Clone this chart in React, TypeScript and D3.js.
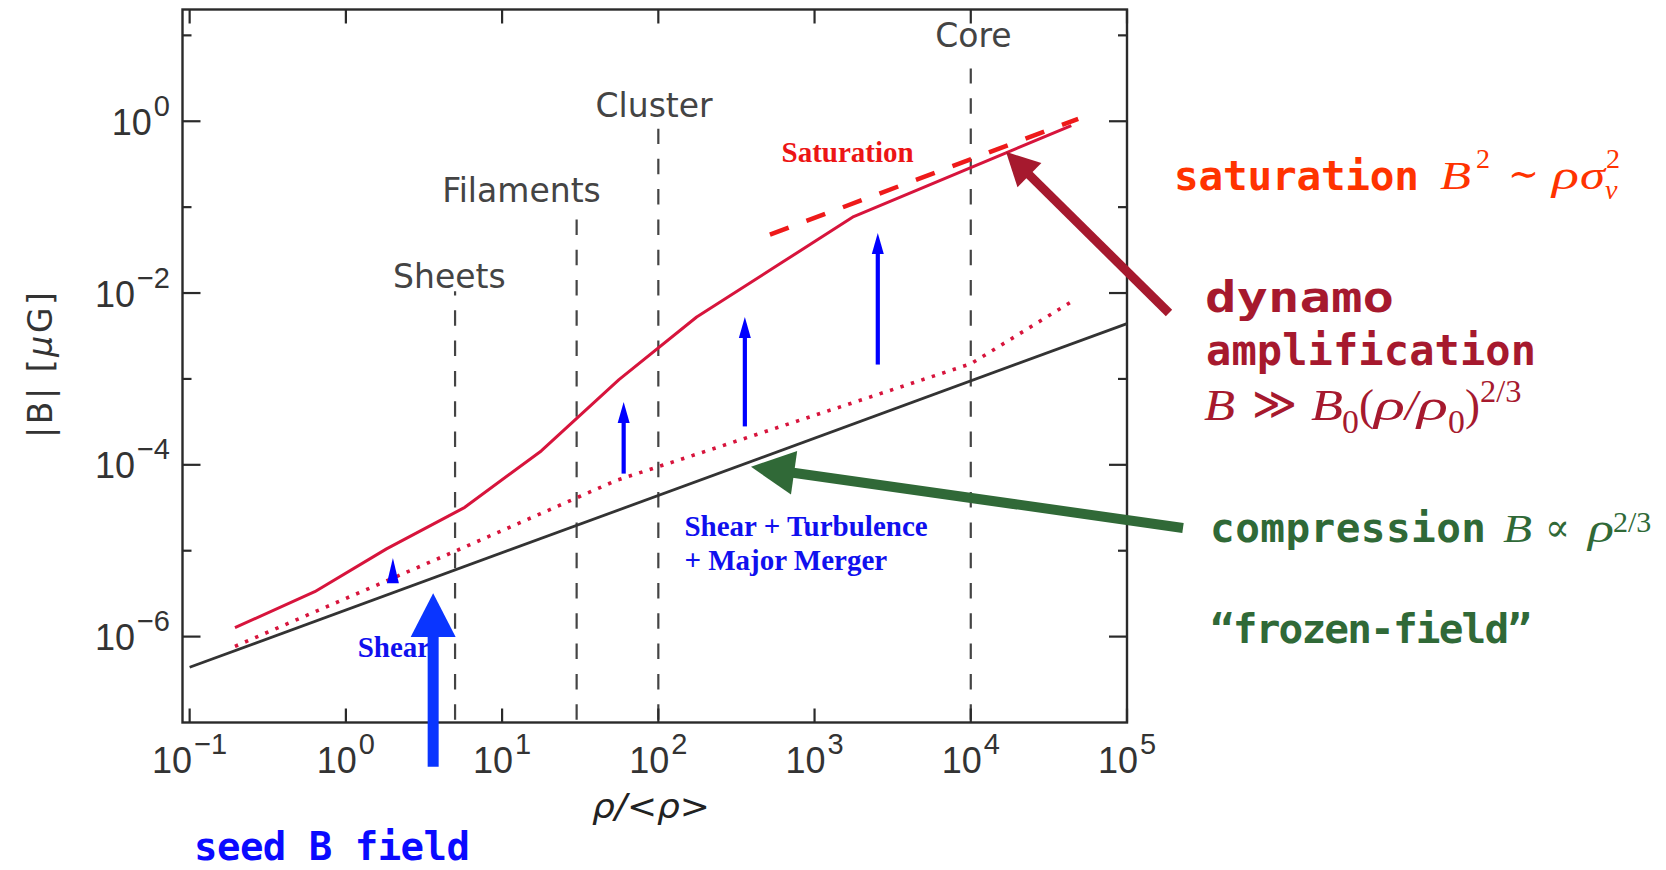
import React from "react";
import * as d3 from "d3";

const WIDTH = 1666;
const HEIGHT = 870;
const PLOT = { left: 182.5, right: 1127, top: 9.5, bottom: 722.5 };

// ---- axes ----
const X_DOMAIN = [0.09, 1e5];
const Y_DOMAIN = [1e-7, 20];
const X_TICK_EXPONENTS = [-1, 0, 1, 2, 3, 4, 5];
const Y_MAJOR_EXPONENTS = [0, -2, -4, -6];
const Y_MINOR_EXPONENTS = [1, -1, -3, -5];

// ---- series ----
const compressionRho = [0.1, 1e5];
const compressionB = [4.4e-7, 4.4e-3];

const dynamoRho = [0.195, 0.632, 1.82, 5.77, 17.8, 56, 176, 600, 1780, 4.4e4];
const dynamoB = [1.27e-6, 3.33e-6, 1.05e-5, 3.2e-5, 1.45e-4, 9.8e-4, 5.26e-3, 0.0219, 0.0776, 0.89];

const dottedRho = [0.195, 4.9, 54, 240, 1e4, 4.4e4];
const dottedB = [7.7e-7, 9.7e-6, 6.6e-5, 1.6e-4, 1.5e-3, 7.9e-3];

const saturationRho = [518, 4.87e4];
const saturationB = [0.0478, 1.066];

// ---- structure regions ----
const regionNames = ["Sheets", "Filaments", "Cluster", "Core"];
const regionRho = [5, 30, 100, 1e4];
const regionLineTopB = [1.05e-2, 7.4e-2, 0.82, 4.1];
const regionLabelRho = [4.6, 13.3, 94, 1.04e4];
const regionLabelB = [0.0113, 0.1135, 1.116, 7.39];

// ---- growth arrows (blue) ----
const growthRho = [2, 60, 358, 2540];
const growthFromB = [4.18e-6, 7.9e-5, 2.8e-4, 1.47e-3];
const growthToB = [8.2e-6, 5.4e-4, 5.26e-3, 0.0499];

// ---- in-plot notes ----
const notes = [
  { text: "Saturation", rho: 615, b: 0.333, color: "#ec1515" },
  { text: "Shear + Turbulence", rho: 147, b: 1.5e-5, color: "#1010ee" },
  { text: "+ Major Merger", rho: 147, b: 5.97e-6, color: "#1010ee" },
  { text: "Shear", rho: 1.19, b: 5.75e-7, color: "#1010ee" },
];

// annotation arrow tips (data) for the outside callouts
const compressionTip = [392, 9.5e-5];
const dynamoTip = [1.68e4, 0.44];
const seedTip = [3.62, 3.2e-6];

const MONO = "'DejaVu Sans Mono', monospace";
const SERIF = "'Liberation Serif', 'DejaVu Serif', serif";
const SYM = "'DejaVu Serif', serif";
const SANS = "'DejaVu Sans', sans-serif";
const TICKFONT = "'Liberation Sans', Arial, sans-serif";

const SAT_COLOR = "#ff3300";
const DYN_COLOR = "#a6192e";
const COMP_COLOR = "#306937";
const SEED_COLOR = "#0a0aff";
const BIG_BLUE = "#0a35ff";
const RED_LINE = "#d7143c";
const AXIS = "#2a2a2a";

function Arrow({ x0, y0, x1, y1, width, headLen, headHalf, color }) {
  const dx = x1 - x0;
  const dy = y1 - y0;
  const len = Math.hypot(dx, dy);
  const ux = dx / len;
  const uy = dy / len;
  const hl = Math.min(headLen, len);
  const bx = x1 - ux * hl;
  const by = y1 - uy * hl;
  const px = -uy;
  const py = ux;
  return (
    <g>
      {len - hl > 0.5 && (
        <line x1={x0} y1={y0} x2={bx + ux} y2={by + uy} stroke={color} strokeWidth={width} />
      )}
      <polygon
        points={`${x1},${y1} ${bx + px * headHalf},${by + py * headHalf} ${bx - px * headHalf},${by - py * headHalf}`}
        fill={color}
      />
    </g>
  );
}

function Eq({ x0, y0, fs, color, pieces }) {
  return (
    <g fill={color}>
      {pieces.map((p, i) => (
        <text
          key={i}
          x={x0 + p.x}
          y={y0 + (p.y || 0)}
          fontSize={fs * (p.s || 1)}
          fontFamily={p.sym ? SYM : SERIF}
          fontStyle={p.i ? "italic" : "normal"}
          textLength={p.len}
          lengthAdjust={p.len ? "spacingAndGlyphs" : undefined}
        >
          {p.t}
        </text>
      ))}
    </g>
  );
}

function TickLabel({ x, y, exp, anchor }) {
  const sup = exp < 0 ? "\u2212" + Math.abs(exp) : String(exp);
  return (
    <text x={x} y={y} textAnchor={anchor} fontFamily={TICKFONT} fill="#333" fontSize={36}>
      10
      <tspan dx={2} dy={-19} fontSize={29}>
        {sup}
      </tspan>
    </text>
  );
}

export default function App() {
  const x = d3.scaleLog().domain(X_DOMAIN).range([PLOT.left, PLOT.right]);
  const y = d3.scaleLog().domain(Y_DOMAIN).range([PLOT.bottom, PLOT.top]);
  const line = d3
    .line()
    .x((d) => x(d[0]))
    .y((d) => y(d[1]));
  const zip = (a, b) => a.map((v, i) => [v, b[i]]);

  const DASH_P = 30.3;
  const DASH_REF = 280;

  return (
    <svg
      width={WIDTH}
      height={HEIGHT}
      viewBox={`0 0 ${WIDTH} ${HEIGHT}`}
      style={{ position: "absolute", left: 0, top: 0, background: "#fff" }}
    >
      <rect x={0} y={0} width={WIDTH} height={HEIGHT} fill="#fff" />

      {/* vertical structure lines */}
      {regionRho.map((r, i) => {
        const y0 = y(regionLineTopB[i]);
        const off = (((y0 - DASH_REF) % DASH_P) + DASH_P) % DASH_P;
        return (
          <line
            key={"v" + i}
            x1={x(r)}
            x2={x(r)}
            y1={y0}
            y2={PLOT.bottom}
            stroke="#444"
            strokeWidth={2.2}
            strokeDasharray="15.5 14.8"
            strokeDashoffset={off}
          />
        );
      })}
      {regionNames.map((n, i) => (
        <text
          key={"l" + i}
          x={x(regionLabelRho[i])}
          y={y(regionLabelB[i])}
          textAnchor="middle"
          fontFamily={SANS}
          fontSize={33}
          fill="#444"
        >
          {n}
        </text>
      ))}

      {/* frame */}
      <rect
        x={PLOT.left}
        y={PLOT.top}
        width={PLOT.right - PLOT.left}
        height={PLOT.bottom - PLOT.top}
        fill="none"
        stroke={AXIS}
        strokeWidth={2.4}
      />
      {X_TICK_EXPONENTS.map((e) => {
        const xx = x(Math.pow(10, e));
        return (
          <g key={"xt" + e}>
            <line x1={xx} x2={xx} y1={PLOT.bottom} y2={PLOT.bottom - 14} stroke={AXIS} strokeWidth={2.2} />
            <line x1={xx} x2={xx} y1={PLOT.top} y2={PLOT.top + 14} stroke={AXIS} strokeWidth={2.2} />
            <TickLabel x={xx} y={PLOT.bottom + 50.5} exp={e} anchor="middle" />
          </g>
        );
      })}
      {Y_MAJOR_EXPONENTS.map((e) => {
        const yy = y(Math.pow(10, e));
        return (
          <g key={"yM" + e}>
            <line x1={PLOT.left} x2={PLOT.left + 18} y1={yy} y2={yy} stroke={AXIS} strokeWidth={2.2} />
            <line x1={PLOT.right} x2={PLOT.right - 18} y1={yy} y2={yy} stroke={AXIS} strokeWidth={2.2} />
            <TickLabel x={170} y={yy + 13.5} exp={e} anchor="end" />
          </g>
        );
      })}
      {Y_MINOR_EXPONENTS.map((e) => {
        const yy = y(Math.pow(10, e));
        return (
          <g key={"ym" + e}>
            <line x1={PLOT.left} x2={PLOT.left + 9} y1={yy} y2={yy} stroke={AXIS} strokeWidth={2.2} />
            <line x1={PLOT.right} x2={PLOT.right - 9} y1={yy} y2={yy} stroke={AXIS} strokeWidth={2.2} />
          </g>
        );
      })}

      {/* axis titles */}
      <text
        x={651}
        y={818}
        textAnchor="middle"
        fontFamily={SANS}
        fontStyle="italic"
        fontSize={34}
        fill="#222"
        textLength={118}
        lengthAdjust="spacingAndGlyphs"
      >
        ρ/&lt;ρ&gt;
      </text>
      <text
        transform="translate(52,365) rotate(-90)"
        textAnchor="middle"
        fontFamily={SANS}
        fontSize={33}
        fill="#333"
        textLength={146}
        lengthAdjust="spacing"
      >
        |B| [<tspan fontStyle="italic">μ</tspan>G]
      </text>

      {/* series */}
      <path d={line(zip(compressionRho, compressionB))} fill="none" stroke="#333" strokeWidth={2.8} />
      <path
        d={line(zip(dottedRho, dottedB))}
        fill="none"
        stroke={RED_LINE}
        strokeWidth={3.6}
        strokeDasharray="3.4 7.6"
      />
      <path d={line(zip(dynamoRho, dynamoB))} fill="none" stroke={RED_LINE} strokeWidth={3} strokeLinejoin="round" />
      <path
        d={line(zip(saturationRho, saturationB))}
        fill="none"
        stroke="#ee1a1a"
        strokeWidth={4.5}
        strokeDasharray="20 19"
      />

      {/* in-plot notes */}
      {notes.map((n, i) => (
        <text
          key={"n" + i}
          x={x(n.rho)}
          y={y(n.b)}
          fontFamily={SERIF}
          fontWeight="bold"
          fontSize={29}
          fill={n.color}
        >
          {n.text}
        </text>
      ))}

      {/* growth arrows */}
      {growthRho.map((r, i) => {
        const len = y(growthFromB[i]) - y(growthToB[i]);
        return (
          <Arrow
            key={"g" + i}
            x0={x(r)}
            y0={y(growthFromB[i])}
            x1={x(r)}
            y1={y(growthToB[i])}
            width={4.2}
            headLen={len < 30 ? len : 21}
            headHalf={6}
            color="#0000ff"
          />
        );
      })}

      {/* seed arrow */}
      <Arrow
        x0={x(seedTip[0])}
        y0={766.7}
        x1={x(seedTip[0])}
        y1={y(seedTip[1])}
        width={11}
        headLen={43.7}
        headHalf={22.5}
        color={BIG_BLUE}
      />
      {/* compression arrow */}
      <Arrow
        x0={1183}
        y0={528}
        x1={x(compressionTip[0])}
        y1={y(compressionTip[1])}
        width={10}
        headLen={43.5}
        headHalf={22}
        color={COMP_COLOR}
      />
      {/* dynamo arrow */}
      <Arrow
        x0={1169}
        y0={313}
        x1={x(dynamoTip[0])}
        y1={y(dynamoTip[1])}
        width={9}
        headLen={33}
        headHalf={17}
        color={DYN_COLOR}
      />

      {/* right-side callouts */}
      <text x={1174} y={190} fontFamily={MONO} fontWeight="bold" fontSize={41} fill={SAT_COLOR} textLength={245} lengthAdjust="spacing">
        saturation
      </text>
      <Eq
        x0={1440}
        y0={189}
        fs={39}
        color={SAT_COLOR}
        pieces={[
          { t: "B", x: 0, i: true, len: 31 },
          { t: "2", x: 36, y: -21, s: 0.72 },
          { t: "\u223C", x: 68, y: -2, sym: true, len: 31 },
          { t: "ρ", x: 112, i: true, len: 27 },
          { t: "σ", x: 140, i: true, len: 25 },
          { t: "v", x: 165, y: 10, s: 0.72, i: true },
          { t: "2", x: 166, y: -21, s: 0.72 },
        ]}
      />

      <text x={1205} y={311.7} fontFamily={MONO} fontWeight="bold" fontSize={42} fill={DYN_COLOR} textLength={189} lengthAdjust="spacingAndGlyphs">
        dynamo
      </text>
      <text x={1206} y={365} fontFamily={MONO} fontWeight="bold" fontSize={42} fill={DYN_COLOR} textLength={330} lengthAdjust="spacing">
        amplification
      </text>
      <Eq
        x0={1204}
        y0={420}
        fs={45}
        color={DYN_COLOR}
        pieces={[
          { t: "B", x: 0, i: true, len: 31 },
          { t: "\u226B", x: 48, y: -1, sym: true, len: 45 },
          { t: "B", x: 107, i: true, len: 32 },
          { t: "0", x: 138, y: 13, s: 0.75 },
          { t: "(", x: 155 },
          { t: "ρ", x: 170, i: true, len: 31 },
          { t: "/", x: 201, i: true },
          { t: "ρ", x: 213, i: true, len: 31 },
          { t: "0", x: 244, y: 13, s: 0.75 },
          { t: ")", x: 261 },
          { t: "2/3", x: 276, y: -18, s: 0.72 },
        ]}
      />

      <text x={1210} y={541.7} fontFamily={MONO} fontWeight="bold" fontSize={41} fill={COMP_COLOR} textLength={276} lengthAdjust="spacing">
        compression
      </text>
      <Eq
        x0={1503}
        y0={541.7}
        fs={40}
        color={COMP_COLOR}
        pieces={[
          { t: "B", x: 0, i: true, len: 29 },
          { t: "\u221D", x: 42, y: -1, sym: true, len: 25 },
          { t: "ρ", x: 85, i: true, len: 26 },
          { t: "2/3", x: 110, y: -10, s: 0.75 },
        ]}
      />
      <text x={1210} y={643.3} fontFamily={MONO} fontWeight="bold" fontSize={41} fill={COMP_COLOR} textLength={322} lengthAdjust="spacing">
        “frozen-field”
      </text>

      <text x={194} y={860} fontFamily={MONO} fontWeight="bold" fontSize={39} fill={SEED_COLOR} textLength={276} lengthAdjust="spacing">
        seed B field
      </text>
    </svg>
  );
}
